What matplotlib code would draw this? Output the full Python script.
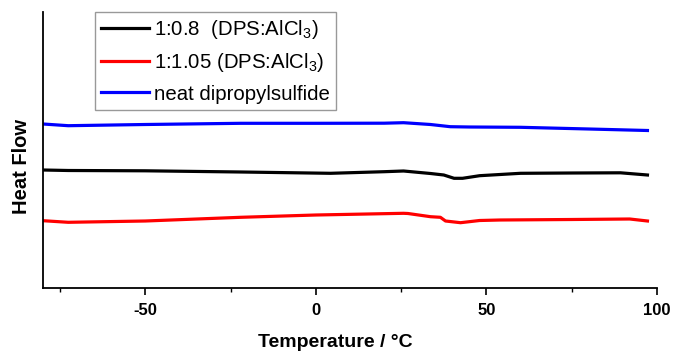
import matplotlib
matplotlib.use("Agg")
import matplotlib.pyplot as plt
from matplotlib.ticker import MultipleLocator, NullLocator

plt.rcParams['font.family'] = ['Liberation Sans', 'DejaVu Sans']
plt.rcParams['mathtext.fontset'] = 'custom'
plt.rcParams['mathtext.rm'] = 'Liberation Sans'
plt.rcParams['axes.unicode_minus'] = False

# Temperature (°C) and heat flow (arbitrary units, offset traces)
t_black = [-80, -72.6, -50, -22, 4.3, 20, 25.7, 33.6, 37.5, 40.5, 43, 48, 54, 60, 75, 89.3, 97.2]
hf_black = [130, 129.5, 129.2, 128, 126.7, 128.3, 129, 126.5, 125, 121.7, 121.7, 124.3, 125.5, 126.7, 127, 127.2, 125]

t_red = [-80, -72.6, -50, -22, 0, 25.7, 27, 33.6, 36.5, 38, 42.4, 48, 54, 75, 92, 97.2]
hf_red = [79.3, 77.7, 79, 82.7, 85, 86.7, 86.5, 83.3, 82.7, 79, 77.3, 79.5, 80, 80.5, 81, 79]

t_blue = [-80, -72.6, -50, -22, 0, 20, 25.7, 33.6, 39.4, 45, 60, 80, 97.2]
hf_blue = [176, 174.3, 175.5, 176.7, 176.7, 176.8, 177.3, 175.5, 173.3, 173, 172.7, 171, 169.5]

labels = ["1:0.8  (DPS:AlCl$_3$)", "1:1.05 (DPS:AlCl$_3$)", "neat dipropylsulfide"]

fig = plt.figure(figsize=(6.74, 3.53), dpi=100)
ax = fig.add_axes([43/674, 1-288/353, (657-43)/674, (288-12)/353])

ax.plot(t_black, hf_black, color='black', lw=2.3, label=labels[0])
ax.plot(t_red, hf_red, color='#ff0000', lw=2.3, label=labels[1])
ax.plot(t_blue, hf_blue, color='#0000ff', lw=2.3, label=labels[2])

ax.set_xlim(-80, 100)
ax.set_ylim(12, 288)

ax.spines['top'].set_visible(False)
ax.spines['right'].set_visible(False)
for s in ('left', 'bottom'):
    ax.spines[s].set_linewidth(1.3)

ax.xaxis.set_major_locator(MultipleLocator(50))
ax.xaxis.set_minor_locator(MultipleLocator(25))
ax.yaxis.set_major_locator(NullLocator())
ax.tick_params(axis='x', which='major', direction='out', length=5, width=1.2, labelsize=12, pad=6)
ax.tick_params(axis='x', which='minor', direction='out', length=3, width=1.0)
for lab in ax.get_xticklabels():
    lab.set_fontweight('bold')

ax.set_xlabel("Temperature / °C", fontsize=14, fontweight='bold')
ax.xaxis.set_label_coords((335-43)/614, -0.165)
ax.set_ylabel("Heat Flow", fontsize=14.5, fontweight='bold')
ax.yaxis.set_label_coords(-0.02, 0.442)

leg = ax.legend(loc='upper left', bbox_to_anchor=(0.085, 1.0), fontsize=14.7,
                frameon=True, fancybox=False, edgecolor='#808080', handlelength=2.35,
                handletextpad=0.25, borderpad=0.3, labelspacing=0.5, borderaxespad=0)
leg.get_frame().set_linewidth(1.0)

fig.savefig("out.png", dpi=100)
